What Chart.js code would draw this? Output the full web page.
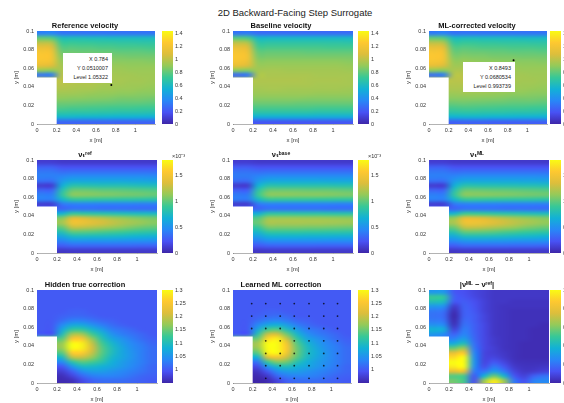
<!DOCTYPE html>
<html>
<head>
<meta charset="utf-8">
<title>2D Backward-Facing Step Surrogate</title>
<script src="https://cdn.jsdelivr.net/npm/chart.js@4"></script>
<style>
html, body { margin: 0; padding: 0; background: #fff; width: 564px; height: 403px; overflow: hidden; }
canvas { position: absolute; }
#mainTitle { position: absolute; left: 0; top: 7px; width: 590px; text-align: center; font: 9.5px "Liberation Sans", sans-serif; color: #222; }
.tip { position: absolute; z-index: 5; background: #fff; color: #222; font: 5.5px/9px "Liberation Sans", sans-serif; text-align: right; padding: 2px 4px; box-sizing: border-box; }
.exponent { position: absolute; z-index: 5; top: 152px; font: 5.5px "Liberation Sans", sans-serif; color: #333; }
</style>
</head>
<body>
<div id="mainTitle">2D Backward-Facing Step Surrogate</div>
<div class="tip" style="left:63px;top:53px;width:49px;height:30px">X 0.784<br>Y 0.0510007<br>Level 1.05322</div>
<div class="tip" style="left:463px;top:62px;width:52px;height:30px">X 0.8493<br>Y 0.0680534<br>Level 0.993739</div>
<div class="exponent" style="left:172px">×10⁻³</div>
<div class="exponent" style="left:368px">×10⁻³</div>
<script>
// Cell centres of the field grids, rows run from the top of the channel down
var xCells = [0.05, 0.15, 0.25, 0.35, 0.45, 0.55, 0.65, 0.75, 0.85, 0.95, 1.05, 1.15];
var yCells = [0.0975, 0.0925, 0.0875, 0.0825, 0.0775, 0.0725, 0.0675, 0.0625, 0.0575, 0.0525,
              0.0475, 0.0425, 0.0375, 0.0325, 0.0275, 0.0225, 0.0175, 0.0125, 0.0075, 0.0025];

// Tick labels
var xTicks = [0, 0.2, 0.4, 0.6, 0.8, 1];
var yTicks = [0, 0.02, 0.04, 0.06, 0.08, 0.1];
var velocityTicks = [0, 0.2, 0.4, 0.6, 0.8, 1, 1.2, 1.4];
var viscosityTicks = [0, 0.5, 1, 1.5];
var correctionTicks = [1, 1.05, 1.1, 1.15, 1.2, 1.25, 1.3];
var errorTicks = [0, 0.2, 0.4, 0.6, 0.8, 1];

// Velocity fields [m/s]
var referenceVelocity = [
  [0.34,0.36,0.30,0.30,0.30,0.30,0.30,0.30,0.30,0.30,0.30,0.30],
  [0.80,0.78,0.62,0.62,0.62,0.61,0.61,0.60,0.60,0.60,0.60,0.60],
  [1.00,0.98,0.72,0.72,0.71,0.71,0.70,0.70,0.69,0.69,0.68,0.68],
  [1.14,1.10,0.78,0.78,0.77,0.77,0.76,0.76,0.75,0.75,0.75,0.74],
  [1.22,1.18,0.83,0.83,0.82,0.82,0.81,0.81,0.80,0.80,0.80,0.79],
  [1.25,1.21,0.87,0.87,0.86,0.86,0.85,0.85,0.85,0.84,0.84,0.84],
  [1.22,1.18,0.91,0.91,0.90,0.89,0.89,0.88,0.88,0.88,0.88,0.87],
  [1.12,1.08,0.94,0.94,0.93,0.92,0.92,0.91,0.91,0.90,0.90,0.90],
  [0.90,0.88,0.97,0.97,0.96,0.95,0.94,0.93,0.93,0.92,0.92,0.92],
  [0.30,0.32,0.99,0.99,0.98,0.97,0.96,0.95,0.94,0.94,0.93,0.93],
  [null,null,1.00,1.00,0.99,0.98,0.97,0.95,0.95,0.94,0.94,0.93],
  [null,null,0.99,0.98,0.97,0.97,0.95,0.94,0.94,0.93,0.93,0.92],
  [null,null,0.97,0.96,0.95,0.95,0.93,0.93,0.92,0.92,0.91,0.90],
  [null,null,0.93,0.93,0.92,0.91,0.90,0.90,0.89,0.89,0.88,0.88],
  [null,null,0.89,0.88,0.88,0.87,0.87,0.86,0.85,0.85,0.85,0.84],
  [null,null,0.83,0.83,0.82,0.82,0.81,0.81,0.80,0.80,0.80,0.79],
  [null,null,0.77,0.76,0.76,0.75,0.75,0.74,0.74,0.74,0.73,0.73],
  [null,null,0.69,0.68,0.68,0.68,0.67,0.67,0.66,0.66,0.66,0.65],
  [null,null,0.56,0.56,0.55,0.55,0.55,0.54,0.54,0.54,0.53,0.53],
  [null,null,0.25,0.25,0.25,0.25,0.25,0.25,0.24,0.24,0.24,0.24]
];
var baselineVelocity = [
  [0.30,0.32,0.27,0.27,0.27,0.27,0.27,0.27,0.27,0.27,0.27,0.27],
  [0.78,0.76,0.58,0.58,0.58,0.58,0.58,0.58,0.58,0.58,0.58,0.58],
  [1.00,0.97,0.68,0.68,0.68,0.68,0.68,0.68,0.68,0.68,0.68,0.67],
  [1.14,1.09,0.75,0.75,0.75,0.75,0.75,0.75,0.75,0.74,0.74,0.74],
  [1.21,1.16,0.81,0.81,0.81,0.81,0.81,0.80,0.80,0.80,0.80,0.80],
  [1.24,1.19,0.85,0.85,0.85,0.85,0.85,0.85,0.85,0.85,0.85,0.85],
  [1.21,1.16,0.89,0.89,0.89,0.89,0.89,0.89,0.89,0.89,0.89,0.88],
  [1.12,1.07,0.92,0.92,0.92,0.92,0.92,0.92,0.92,0.92,0.92,0.91],
  [0.88,0.86,0.94,0.95,0.95,0.94,0.94,0.94,0.94,0.94,0.94,0.93],
  [0.26,0.30,0.96,0.96,0.96,0.96,0.96,0.96,0.95,0.95,0.95,0.95],
  [null,null,0.97,0.97,0.97,0.97,0.97,0.96,0.96,0.96,0.96,0.95],
  [null,null,0.96,0.96,0.96,0.96,0.96,0.96,0.95,0.95,0.95,0.95],
  [null,null,0.94,0.95,0.95,0.94,0.94,0.94,0.94,0.94,0.94,0.93],
  [null,null,0.92,0.92,0.92,0.92,0.92,0.92,0.91,0.91,0.91,0.91],
  [null,null,0.88,0.88,0.88,0.88,0.88,0.87,0.87,0.87,0.87,0.87],
  [null,null,0.83,0.83,0.83,0.83,0.82,0.82,0.82,0.82,0.82,0.82],
  [null,null,0.76,0.76,0.76,0.76,0.76,0.76,0.75,0.75,0.75,0.75],
  [null,null,0.67,0.67,0.67,0.67,0.67,0.67,0.66,0.66,0.66,0.66],
  [null,null,0.52,0.52,0.52,0.52,0.52,0.52,0.51,0.51,0.51,0.51],
  [null,null,0.20,0.20,0.20,0.20,0.20,0.20,0.20,0.20,0.20,0.20]
];
var mlVelocity = [
  [0.32,0.35,0.29,0.30,0.30,0.30,0.30,0.30,0.30,0.30,0.30,0.30],
  [0.80,0.78,0.60,0.61,0.61,0.60,0.60,0.60,0.60,0.59,0.59,0.59],
  [1.00,0.97,0.70,0.71,0.71,0.70,0.70,0.69,0.69,0.69,0.68,0.68],
  [1.14,1.10,0.77,0.78,0.77,0.76,0.76,0.76,0.75,0.75,0.75,0.74],
  [1.22,1.18,0.82,0.83,0.82,0.82,0.81,0.81,0.80,0.80,0.80,0.79],
  [1.25,1.20,0.86,0.87,0.86,0.86,0.85,0.85,0.85,0.84,0.84,0.84],
  [1.22,1.17,0.90,0.91,0.90,0.89,0.89,0.88,0.88,0.88,0.88,0.87],
  [1.12,1.07,0.93,0.94,0.93,0.92,0.92,0.91,0.91,0.90,0.90,0.90],
  [0.89,0.87,0.96,0.97,0.96,0.95,0.94,0.93,0.93,0.92,0.92,0.92],
  [0.28,0.32,0.98,0.99,0.98,0.97,0.96,0.95,0.94,0.94,0.93,0.93],
  [null,null,0.99,1.00,0.99,0.98,0.97,0.96,0.95,0.94,0.94,0.93],
  [null,null,0.98,0.98,0.98,0.97,0.96,0.95,0.94,0.93,0.93,0.92],
  [null,null,0.96,0.96,0.96,0.95,0.94,0.93,0.92,0.92,0.91,0.90],
  [null,null,0.92,0.93,0.92,0.92,0.91,0.90,0.89,0.89,0.88,0.88],
  [null,null,0.88,0.88,0.88,0.87,0.87,0.86,0.85,0.85,0.85,0.84],
  [null,null,0.82,0.83,0.82,0.82,0.81,0.81,0.80,0.80,0.80,0.79],
  [null,null,0.75,0.76,0.76,0.75,0.75,0.74,0.74,0.74,0.73,0.73],
  [null,null,0.67,0.68,0.68,0.67,0.67,0.67,0.66,0.66,0.66,0.65],
  [null,null,0.54,0.55,0.55,0.55,0.54,0.54,0.54,0.53,0.53,0.53],
  [null,null,0.23,0.24,0.24,0.24,0.23,0.23,0.23,0.23,0.23,0.23]
];

// Eddy viscosity fields [x 1e-3]
var referenceViscosity = [
  [0.12,0.12,0.10,0.10,0.10,0.10,0.10,0.10,0.10,0.10,0.10,0.10],
  [0.28,0.28,0.22,0.22,0.22,0.22,0.22,0.22,0.22,0.22,0.22,0.22],
  [0.38,0.38,0.34,0.35,0.35,0.35,0.35,0.35,0.35,0.35,0.35,0.35],
  [0.42,0.42,0.44,0.48,0.48,0.48,0.48,0.48,0.48,0.48,0.48,0.47],
  [0.35,0.35,0.54,0.62,0.62,0.62,0.62,0.62,0.62,0.61,0.61,0.60],
  [0.12,0.12,0.66,0.82,0.82,0.81,0.80,0.80,0.80,0.79,0.78,0.77],
  [0.30,0.30,0.80,1.02,1.03,1.02,1.00,1.00,0.99,0.98,0.97,0.96],
  [0.42,0.42,0.86,1.10,1.10,1.09,1.08,1.07,1.06,1.05,1.04,1.02],
  [0.42,0.42,0.70,0.86,0.87,0.86,0.85,0.85,0.84,0.84,0.83,0.82],
  [0.12,0.12,0.38,0.42,0.43,0.43,0.42,0.42,0.42,0.42,0.41,0.41],
  [null,null,0.30,0.36,0.36,0.36,0.35,0.35,0.35,0.34,0.34,0.34],
  [null,null,0.68,0.88,0.86,0.84,0.82,0.80,0.78,0.76,0.75,0.74],
  [null,null,1.08,1.36,1.34,1.28,1.24,1.18,1.14,1.10,1.07,1.05],
  [null,null,1.18,1.48,1.46,1.40,1.34,1.28,1.22,1.18,1.14,1.10],
  [null,null,1.00,1.26,1.26,1.22,1.18,1.14,1.10,1.06,1.02,1.00],
  [null,null,0.80,0.98,0.98,0.97,0.95,0.93,0.91,0.88,0.86,0.84],
  [null,null,0.60,0.72,0.73,0.72,0.72,0.71,0.70,0.68,0.67,0.66],
  [null,null,0.42,0.50,0.50,0.50,0.50,0.50,0.49,0.48,0.48,0.47],
  [null,null,0.26,0.30,0.30,0.30,0.30,0.30,0.30,0.30,0.29,0.29],
  [null,null,0.09,0.10,0.10,0.10,0.10,0.10,0.10,0.10,0.10,0.10]
];
var baselineViscosity = [
  [0.12,0.12,0.10,0.10,0.10,0.10,0.10,0.10,0.10,0.10,0.10,0.10],
  [0.26,0.26,0.22,0.22,0.22,0.22,0.22,0.22,0.22,0.22,0.22,0.22],
  [0.36,0.36,0.34,0.35,0.35,0.35,0.35,0.35,0.35,0.35,0.35,0.35],
  [0.40,0.40,0.44,0.48,0.48,0.48,0.48,0.48,0.48,0.48,0.48,0.48],
  [0.33,0.33,0.54,0.62,0.63,0.63,0.63,0.63,0.63,0.62,0.62,0.62],
  [0.11,0.11,0.68,0.82,0.82,0.82,0.82,0.82,0.82,0.82,0.81,0.81],
  [0.28,0.28,0.84,1.02,1.03,1.03,1.03,1.02,1.02,1.02,1.01,1.00],
  [0.40,0.40,0.90,1.10,1.11,1.11,1.10,1.10,1.10,1.09,1.08,1.07],
  [0.40,0.40,0.72,0.88,0.88,0.88,0.88,0.88,0.87,0.87,0.86,0.86],
  [0.11,0.11,0.38,0.43,0.43,0.43,0.43,0.43,0.43,0.43,0.42,0.42],
  [null,null,0.30,0.36,0.36,0.36,0.36,0.36,0.36,0.35,0.35,0.35],
  [null,null,0.66,0.84,0.85,0.85,0.84,0.84,0.84,0.83,0.82,0.82],
  [null,null,0.96,1.14,1.15,1.15,1.15,1.14,1.14,1.13,1.12,1.11],
  [null,null,1.02,1.20,1.20,1.20,1.20,1.19,1.19,1.18,1.17,1.16],
  [null,null,0.88,1.06,1.06,1.06,1.06,1.05,1.05,1.04,1.03,1.02],
  [null,null,0.72,0.86,0.87,0.87,0.87,0.86,0.86,0.85,0.85,0.84],
  [null,null,0.56,0.66,0.67,0.67,0.67,0.66,0.66,0.66,0.65,0.65],
  [null,null,0.40,0.47,0.47,0.47,0.47,0.47,0.47,0.46,0.46,0.46],
  [null,null,0.24,0.28,0.29,0.29,0.29,0.29,0.28,0.28,0.28,0.28],
  [null,null,0.09,0.10,0.10,0.10,0.10,0.10,0.10,0.10,0.10,0.10]
];
var mlViscosity = [
  [0.12,0.12,0.10,0.10,0.10,0.10,0.10,0.10,0.10,0.10,0.10,0.10],
  [0.28,0.28,0.22,0.22,0.22,0.22,0.22,0.22,0.22,0.22,0.22,0.22],
  [0.38,0.38,0.34,0.35,0.35,0.35,0.35,0.35,0.35,0.35,0.35,0.35],
  [0.42,0.42,0.44,0.48,0.48,0.48,0.48,0.48,0.48,0.48,0.48,0.47],
  [0.35,0.35,0.54,0.62,0.62,0.62,0.62,0.62,0.62,0.61,0.61,0.60],
  [0.12,0.12,0.66,0.82,0.82,0.81,0.81,0.80,0.80,0.79,0.79,0.78],
  [0.30,0.30,0.80,1.02,1.03,1.02,1.01,1.01,1.00,0.99,0.98,0.97],
  [0.42,0.42,0.86,1.10,1.10,1.10,1.09,1.08,1.07,1.06,1.05,1.04],
  [0.42,0.42,0.70,0.87,0.88,0.87,0.86,0.86,0.85,0.85,0.84,0.83],
  [0.12,0.12,0.38,0.42,0.43,0.43,0.43,0.42,0.42,0.42,0.42,0.41],
  [null,null,0.30,0.36,0.36,0.36,0.36,0.35,0.35,0.35,0.34,0.34],
  [null,null,0.70,0.90,0.90,0.88,0.85,0.83,0.81,0.79,0.77,0.76],
  [null,null,1.12,1.38,1.38,1.34,1.28,1.23,1.18,1.14,1.11,1.08],
  [null,null,1.20,1.46,1.48,1.44,1.38,1.32,1.26,1.21,1.17,1.13],
  [null,null,1.02,1.26,1.28,1.25,1.21,1.17,1.13,1.08,1.05,1.02],
  [null,null,0.82,1.00,1.01,1.00,0.98,0.95,0.93,0.90,0.88,0.86],
  [null,null,0.62,0.74,0.75,0.75,0.74,0.73,0.71,0.70,0.69,0.67],
  [null,null,0.44,0.51,0.52,0.52,0.51,0.51,0.50,0.49,0.49,0.48],
  [null,null,0.26,0.31,0.31,0.31,0.31,0.31,0.30,0.30,0.30,0.29],
  [null,null,0.09,0.10,0.10,0.10,0.10,0.10,0.10,0.10,0.10,0.10]
];

// Correction factor fields
var hiddenCorrection = [
  [1.00,1.00,1.00,1.00,1.00,1.00,1.00,1.00,1.00,1.00,1.00,1.00],
  [1.00,1.00,1.00,1.00,1.00,1.00,1.00,1.00,1.00,1.00,1.00,1.00],
  [1.00,1.00,1.00,1.00,1.00,1.00,1.00,1.00,1.00,1.00,1.00,1.00],
  [1.00,1.00,1.00,1.00,1.00,1.00,1.00,1.00,1.00,1.00,1.00,1.00],
  [1.00,1.00,1.00,1.005,1.005,1.00,1.00,1.00,1.00,1.00,1.00,1.00],
  [1.00,1.00,1.005,1.01,1.01,1.005,1.00,1.00,1.00,1.00,1.00,1.00],
  [1.00,1.00,1.015,1.03,1.03,1.02,1.01,1.005,1.00,1.00,1.00,1.00],
  [1.00,1.00,1.04,1.07,1.07,1.05,1.03,1.015,1.005,1.00,1.00,1.00],
  [1.00,1.00,1.07,1.12,1.12,1.09,1.06,1.03,1.02,1.01,1.00,1.00],
  [1.00,0.995,1.10,1.18,1.18,1.13,1.09,1.05,1.03,1.02,1.01,1.00],
  [null,null,1.14,1.25,1.25,1.17,1.11,1.07,1.05,1.03,1.015,1.005],
  [null,null,1.17,1.30,1.29,1.20,1.13,1.09,1.06,1.04,1.025,1.01],
  [null,null,1.17,1.30,1.29,1.21,1.14,1.10,1.07,1.045,1.03,1.015],
  [null,null,1.14,1.26,1.26,1.20,1.14,1.10,1.07,1.05,1.03,1.015],
  [null,null,1.09,1.19,1.20,1.17,1.13,1.09,1.07,1.05,1.03,1.015],
  [null,null,1.04,1.11,1.14,1.13,1.11,1.08,1.06,1.045,1.03,1.015],
  [null,null,0.995,1.05,1.09,1.09,1.08,1.07,1.055,1.04,1.025,1.01],
  [null,null,0.975,1.005,1.045,1.06,1.06,1.05,1.04,1.03,1.02,1.01],
  [null,null,0.96,0.98,1.01,1.03,1.035,1.035,1.03,1.02,1.01,1.005],
  [null,null,0.955,0.96,0.985,1.005,1.015,1.015,1.015,1.01,1.005,1.00]
];
var learnedCorrection = [
  [1.00,1.00,1.00,1.00,1.00,1.00,1.00,1.00,1.00,1.00,1.00,1.00],
  [1.00,1.00,1.00,1.00,1.00,1.00,1.00,1.00,1.00,1.00,1.00,1.00],
  [1.00,1.00,1.00,1.00,1.00,1.00,1.00,1.00,1.00,1.00,1.00,1.00],
  [1.00,1.00,1.00,1.00,1.00,1.00,1.00,1.00,1.00,1.00,1.00,1.00],
  [1.00,1.00,1.00,1.005,1.005,1.00,1.00,1.00,1.00,1.00,1.00,1.00],
  [1.00,1.00,1.005,1.01,1.015,1.01,1.00,1.00,1.00,1.00,1.00,1.00],
  [1.00,1.00,1.015,1.03,1.035,1.025,1.01,1.005,1.00,1.00,1.00,1.00],
  [1.00,1.00,1.04,1.07,1.08,1.06,1.03,1.015,1.005,1.00,1.00,1.00],
  [1.00,1.00,1.07,1.13,1.14,1.10,1.06,1.03,1.02,1.01,1.00,1.00],
  [1.00,0.995,1.11,1.20,1.21,1.15,1.09,1.05,1.03,1.02,1.01,1.00],
  [null,null,1.15,1.27,1.29,1.20,1.12,1.07,1.05,1.03,1.015,1.005],
  [null,null,1.18,1.32,1.32,1.24,1.14,1.09,1.06,1.04,1.025,1.01],
  [null,null,1.17,1.32,1.32,1.25,1.15,1.10,1.07,1.045,1.03,1.015],
  [null,null,1.14,1.29,1.31,1.24,1.15,1.10,1.075,1.05,1.03,1.015],
  [null,null,1.08,1.21,1.24,1.20,1.14,1.095,1.07,1.05,1.03,1.015],
  [null,null,1.02,1.12,1.16,1.15,1.11,1.08,1.06,1.045,1.03,1.015],
  [null,null,0.985,1.05,1.09,1.10,1.08,1.07,1.055,1.04,1.025,1.01],
  [null,null,0.965,1.00,1.045,1.06,1.06,1.05,1.04,1.03,1.02,1.01],
  [null,null,0.955,0.97,1.01,1.03,1.035,1.035,1.03,1.02,1.01,1.005],
  [null,null,0.95,0.955,0.98,1.005,1.015,1.015,1.015,1.01,1.005,1.00]
];
var velocityError = [
  [0.30,0.30,0.14,0.12,0.09,0.07,0.05,0.05,0.05,0.05,0.05,0.05],
  [0.50,0.48,0.16,0.13,0.10,0.07,0.05,0.05,0.05,0.05,0.05,0.05],
  [0.44,0.42,0.14,0.15,0.12,0.08,0.05,0.05,0.04,0.04,0.04,0.04],
  [0.30,0.28,0.06,0.16,0.13,0.08,0.05,0.04,0.04,0.04,0.04,0.04],
  [0.22,0.20,0.02,0.16,0.14,0.08,0.05,0.04,0.03,0.03,0.03,0.03],
  [0.20,0.18,0.00,0.16,0.15,0.09,0.05,0.04,0.03,0.03,0.03,0.03],
  [0.22,0.20,0.01,0.18,0.15,0.09,0.05,0.04,0.03,0.03,0.03,0.03],
  [0.28,0.26,0.03,0.20,0.16,0.10,0.05,0.04,0.03,0.03,0.03,0.02],
  [0.38,0.36,0.08,0.23,0.16,0.10,0.05,0.04,0.03,0.03,0.02,0.02],
  [0.30,0.26,0.16,0.25,0.17,0.10,0.05,0.04,0.03,0.03,0.02,0.02],
  [null,null,0.24,0.32,0.18,0.10,0.06,0.04,0.03,0.03,0.02,0.02],
  [null,null,0.36,0.44,0.20,0.10,0.06,0.04,0.03,0.02,0.02,0.02],
  [null,null,0.56,0.64,0.22,0.10,0.07,0.04,0.03,0.02,0.02,0.02],
  [null,null,0.78,0.86,0.26,0.09,0.07,0.05,0.03,0.02,0.02,0.02],
  [null,null,0.92,1.00,0.28,0.09,0.09,0.06,0.03,0.02,0.02,0.02],
  [null,null,1.00,1.00,0.30,0.09,0.14,0.09,0.04,0.03,0.03,0.03],
  [null,null,0.96,1.00,0.28,0.11,0.22,0.14,0.06,0.04,0.04,0.05],
  [null,null,0.78,0.80,0.22,0.20,0.32,0.22,0.09,0.05,0.06,0.08],
  [null,null,0.54,0.52,0.14,0.38,0.58,0.40,0.14,0.08,0.16,0.20],
  [null,null,0.58,0.52,0.12,0.64,0.96,0.64,0.22,0.12,0.24,0.26]
];

// Value range of each colour bar
var velocityRange = [0, 1.44];
var viscosityRange = [0, 1.8];
var correctionRange = [0.95, 1.3];
var errorRange = [0, 1];

// Sample locations marked on the learned correction panel
var sampleX = [0.19, 0.333, 0.48, 0.623, 0.773, 0.923, 1.063];
var sampleY = [0.0854, 0.072, 0.0586, 0.0454, 0.0318, 0.0186, 0.005];

// Data tip markers
var tipReference = [{ x: 0.756, y: 0.042 }];
var tipMl = [{ x: 0.86, y: 0.0686 }];

// parula style colour stops
var parula = [
  [0, 62, 38, 168], [0.125, 72, 82, 244], [0.25, 40, 135, 247], [0.375, 18, 177, 214],
  [0.5, 55, 200, 151], [0.625, 147, 202, 90], [0.75, 220, 190, 60], [0.875, 254, 200, 48], [1, 249, 251, 20]
];

function colourAt(t) {
  t = Math.max(0, Math.min(1, t));
  for (var i = 1; i < parula.length; i++) {
    if (t <= parula[i][0]) {
      var a = parula[i - 1], b = parula[i];
      var f = (t - a[0]) / (b[0] - a[0]);
      return [a[1] + (b[1] - a[1]) * f, a[2] + (b[2] - a[2]) * f, a[3] + (b[3] - a[3]) * f];
    }
  }
  return parula[parula.length - 1].slice(1);
}

// Paints dataset 0 as a smooth field, using the pixel positions chart.js gave its points
var fieldPlugin = {
  id: 'field',
  beforeDatasetsDraw: function (chart) {
    var points = chart.getDatasetMeta(0).data;
    var raw = chart.data.datasets[0].data;
    var cols = xCells.length, rows = yCells.length;
    var range = chart.options.plugins.field.range;
    var off = document.createElement('canvas');
    off.width = cols;
    off.height = rows;
    var octx = off.getContext('2d');
    var img = octx.createImageData(cols, rows);
    for (var r = 0; r < rows; r++) {
      for (var c = 0; c < cols; c++) {
        // cells inside the step borrow the first fluid cell so the edge stays clean
        var k = r * cols + c;
        var v = raw[k].v;
        if (v === null) v = raw[r * cols + 2].v;
        var rgb = colourAt((v - range[0]) / (range[1] - range[0]));
        img.data[k * 4] = rgb[0];
        img.data[k * 4 + 1] = rgb[1];
        img.data[k * 4 + 2] = rgb[2];
        img.data[k * 4 + 3] = 255;
      }
    }
    octx.putImageData(img, 0, 0);
    var dx = points[1].x - points[0].x;
    var dy = points[cols].y - points[0].y;
    var ctx = chart.ctx;
    var xs = chart.scales.x, ys = chart.scales.y;
    ctx.save();
    ctx.imageSmoothingEnabled = true;
    ctx.imageSmoothingQuality = 'high';
    ctx.drawImage(off, points[0].x - dx / 2, points[0].y - dy / 2, dx * cols, dy * rows);
    // the solid step is not part of the field
    ctx.fillStyle = '#fff';
    var sx = xs.getPixelForValue(0.2), sy = ys.getPixelForValue(0.05);
    ctx.fillRect(xs.getPixelForValue(0), sy, sx - xs.getPixelForValue(0), ys.getPixelForValue(0) - sy);
    ctx.restore();
  }
};

// Colour bar gradient along its y scale
var barPlugin = {
  id: 'bar',
  beforeDatasetsDraw: function (chart) {
    var area = chart.chartArea;
    var ctx = chart.ctx;
    var grad = ctx.createLinearGradient(0, area.bottom, 0, area.top);
    parula.forEach(function (s) {
      grad.addColorStop(s[0], 'rgb(' + s[1] + ',' + s[2] + ',' + s[3] + ')');
    });
    ctx.fillStyle = grad;
    ctx.fillRect(area.left, area.top, area.right - area.left, area.bottom - area.top);
  }
};

function addCanvas(left, top, w, h) {
  var c = document.createElement('canvas');
  c.width = w;
  c.height = h;
  c.style.left = left + 'px';
  c.style.top = top + 'px';
  document.body.appendChild(c);
  return c.getContext('2d');
}

function fmt(v) {
  return String(+v.toFixed(2));
}

function setTicks(list) {
  return function (scale) {
    scale.ticks = list.map(function (v) { return { value: v }; });
  };
}

var plotW = 120, plotH = 93, leftAxis = 24, titleH = 12, bottomAxis = 20;

function fieldPoints(grid) {
  var pts = [];
  yCells.forEach(function (y, r) {
    xCells.forEach(function (x, c) {
      pts.push({ x: x, y: y, v: grid[r][c] });
    });
  });
  return pts;
}

function addPanel(left, top, barGap, title, grid, range, ticks, extra) {
  var datasets = [{ data: fieldPoints(grid), pointRadius: 0 }].concat(extra || []);
  var axisFont = { family: 'Liberation Sans', size: 5.5 };
  new Chart(addCanvas(left - leftAxis, top - titleH, leftAxis + plotW + 2, titleH + plotH + bottomAxis), {
    type: 'scatter',
    data: { datasets: datasets },
    options: {
      responsive: false,
      animation: false,
      events: [],
      layout: { padding: { right: 2 } },
      plugins: {
        legend: { display: false },
        tooltip: { enabled: false },
        field: { range: range },
        title: {
          display: true,
          text: title,
          color: '#111',
          font: { family: 'Liberation Sans, DejaVu Sans', size: 7.5, weight: 'bold', lineHeight: 1.2 },
          padding: { top: 2, bottom: 1 }
        }
      },
      scales: {
        x: {
          min: 0, max: 1.2,
          afterBuildTicks: setTicks(xTicks),
          afterFit: function (s) { s.height = bottomAxis; },
          grid: { drawOnChartArea: false, tickLength: 0 },
          border: { color: '#666', width: 0.5 },
          ticks: { color: '#333', font: axisFont, padding: 3, maxRotation: 0, autoSkip: false, callback: fmt },
          title: { display: true, text: 'x [m]', color: '#333', font: { family: 'Liberation Sans', size: 6 }, padding: 0 }
        },
        y: {
          min: 0, max: 0.1,
          afterBuildTicks: setTicks(yTicks),
          afterFit: function (s) { s.width = leftAxis; },
          grid: { drawOnChartArea: false, tickLength: 0 },
          border: { color: '#666', width: 0.5 },
          ticks: { color: '#333', font: axisFont, padding: 3, autoSkip: false, callback: fmt },
          title: { display: true, text: 'y [m]', color: '#333', font: { family: 'Liberation Sans', size: 6 }, padding: 0 }
        }
      }
    },
    plugins: [fieldPlugin]
  });

  // colour bar, in its own small chart to the right of the field
  new Chart(addCanvas(left + plotW + barGap, top - titleH, 40, titleH + plotH + 6), {
    type: 'scatter',
    data: { datasets: [{ data: [] }] },
    options: {
      responsive: false,
      animation: false,
      events: [],
      layout: { padding: { top: titleH, bottom: 6 } },
      plugins: {
        legend: { display: false },
        tooltip: { enabled: false },
        title: { display: false }
      },
      scales: {
        x: { display: false },
        y: {
          position: 'right',
          min: range[0], max: range[1],
          afterBuildTicks: setTicks(ticks),
          afterFit: function (s) { s.width = 29; },
          grid: { drawOnChartArea: false, tickLength: 0 },
          border: { display: false },
          ticks: { color: '#333', font: axisFont, padding: 2, autoSkip: false, callback: fmt }
        }
      }
    },
    plugins: [barPlugin]
  });
}

// Marker datasets
var samplePoints = [];
sampleY.forEach(function (y) {
  sampleX.forEach(function (x) {
    if (x > 0.2 || y > 0.05) samplePoints.push({ x: x, y: y });
  });
});
var dots = [{ data: samplePoints, pointRadius: 0.9, pointBackgroundColor: 'rgba(0,0,0,0.75)', pointBorderWidth: 0 }];
function tipDot(p) {
  return [{ data: p, pointRadius: 1, pointBackgroundColor: '#000', pointBorderWidth: 0 }];
}

// Top row
addPanel(37, 31, 5, 'Reference velocity', referenceVelocity, velocityRange, velocityTicks, tipDot(tipReference));
addPanel(233, 31, 5, 'Baseline velocity', baselineVelocity, velocityRange, velocityTicks);
addPanel(429, 31, 1, 'ML-corrected velocity', mlVelocity, velocityRange, velocityTicks, tipDot(tipMl));
// Middle row
addPanel(37, 160, 5, 'νₜʳᵉᶠ', referenceViscosity, viscosityRange, viscosityTicks);
addPanel(233, 160, 5, 'νₜᵇᵃˢᵉ', baselineViscosity, viscosityRange, viscosityTicks);
addPanel(429, 160, 1, 'νₜᴹᴸ', mlViscosity, viscosityRange, viscosityTicks);
// Bottom row
addPanel(37, 290, 5, 'Hidden true correction', hiddenCorrection, correctionRange, correctionTicks);
addPanel(233, 290, 5, 'Learned ML correction', learnedCorrection, correctionRange, correctionTicks, dots);
addPanel(429, 290, 1, '|νᴹᴸ − νʳᵉᶠ|', velocityError, errorRange, errorTicks);
</script>
</body>
</html>
